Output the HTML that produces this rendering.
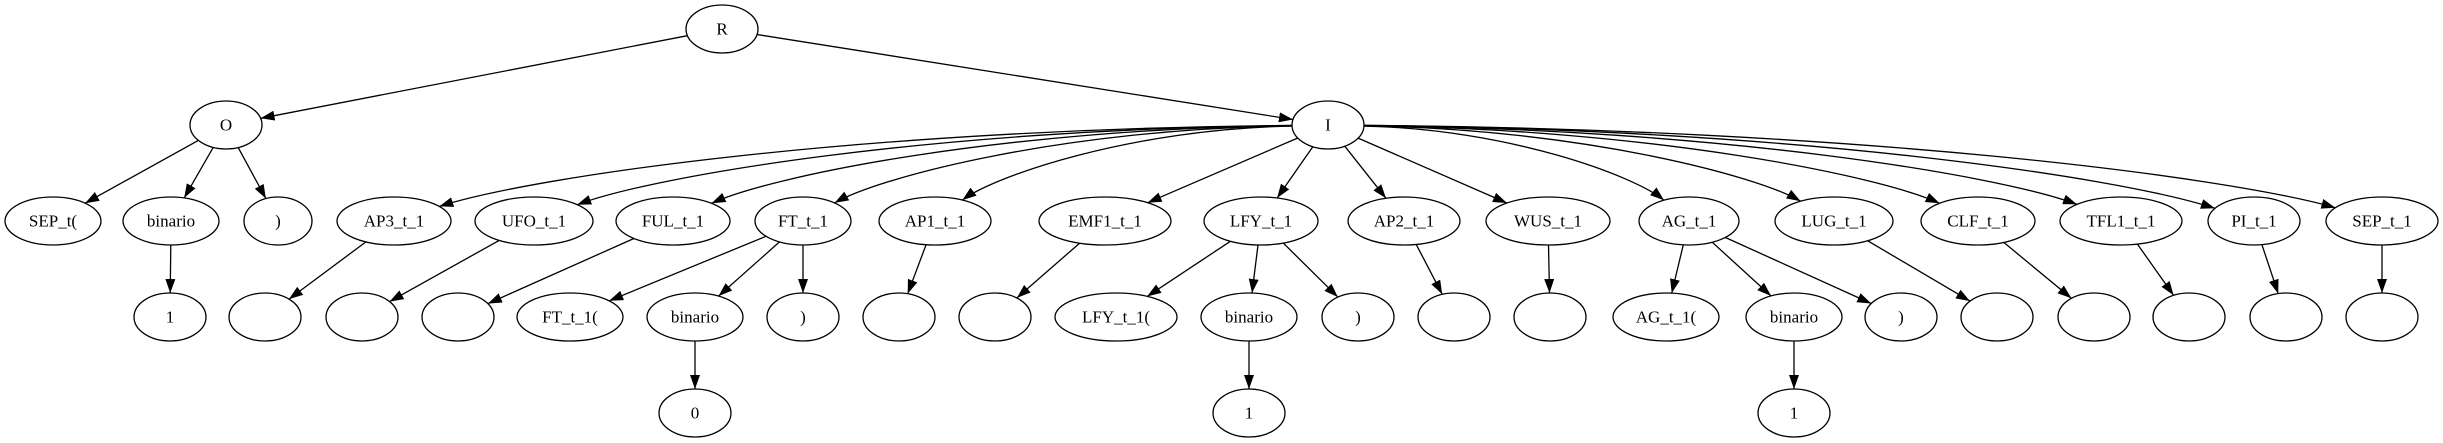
<!DOCTYPE html>
<html><head><meta charset="utf-8"><style>
html,body{margin:0;padding:0;background:#fff;}
svg{display:block;}
text{font-family:"Liberation Serif",serif;font-size:17px;text-anchor:middle;dominant-baseline:central;fill:#000;}
ellipse{fill:none;stroke:#000;stroke-width:1.3;}
</style></head><body>
<svg id="s" width="2443" height="443" viewBox="0 0 2443 443" xmlns="http://www.w3.org/2000/svg">
<defs><marker id="ar" markerUnits="userSpaceOnUse" markerWidth="14" markerHeight="10" refX="14" refY="5" orient="auto"><path d="M0,0 L14,5 L0,10 z" fill="#000"/></marker></defs>
<g id="edges" fill="none" stroke="#000" stroke-width="1.3"></g>
<g id="nodes">
<ellipse cx="722" cy="29" rx="36" ry="24"/><text x="722" y="29">R</text>
<ellipse cx="226" cy="125" rx="36" ry="24"/><text x="226" y="125">O</text>
<ellipse cx="1328" cy="125" rx="36" ry="24"/><text x="1328" y="125">I</text>

<ellipse cx="53" cy="221" rx="48" ry="24"/><text x="53" y="221">SEP_t(</text>
<ellipse cx="171" cy="221" rx="48" ry="24"/><text x="171" y="221">binario</text>
<ellipse cx="278" cy="221" rx="34" ry="24"/><text x="278" y="221">)</text>
<ellipse cx="394" cy="221" rx="57" ry="24"/><text x="394" y="221">AP3_t_1</text>
<ellipse cx="534" cy="221" rx="59" ry="24"/><text x="534" y="221">UFO_t_1</text>
<ellipse cx="673" cy="221" rx="57" ry="24"/><text x="673" y="221">FUL_t_1</text>
<ellipse cx="803" cy="221" rx="48" ry="24"/><text x="803" y="221">FT_t_1</text>
<ellipse cx="935" cy="221" rx="56" ry="24"/><text x="935" y="221">AP1_t_1</text>
<ellipse cx="1105" cy="221" rx="66" ry="24"/><text x="1105" y="221">EMF1_t_1</text>
<ellipse cx="1261" cy="221" rx="57" ry="24"/><text x="1261" y="221">LFY_t_1</text>
<ellipse cx="1404" cy="221" rx="56" ry="24"/><text x="1404" y="221">AP2_t_1</text>
<ellipse cx="1548" cy="221" rx="62" ry="24"/><text x="1548" y="221">WUS_t_1</text>
<ellipse cx="1689" cy="221" rx="50" ry="24"/><text x="1689" y="221">AG_t_1</text>
<ellipse cx="1834" cy="221" rx="59" ry="24"/><text x="1834" y="221">LUG_t_1</text>
<ellipse cx="1978" cy="221" rx="57" ry="24"/><text x="1978" y="221">CLF_t_1</text>
<ellipse cx="2121" cy="221" rx="61" ry="24"/><text x="2121" y="221">TFL1_t_1</text>
<ellipse cx="2254" cy="221" rx="46" ry="24"/><text x="2254" y="221">PI_t_1</text>
<ellipse cx="2382" cy="221" rx="56" ry="24"/><text x="2382" y="221">SEP_t_1</text>

<ellipse cx="170" cy="317" rx="36" ry="24"/><text x="170" y="317">1</text>
<ellipse cx="265" cy="317" rx="36" ry="24"/>
<ellipse cx="362" cy="317" rx="36" ry="24"/>
<ellipse cx="458" cy="317" rx="36" ry="24"/>
<ellipse cx="570" cy="317" rx="53" ry="24"/><text x="570" y="317">FT_t_1(</text>
<ellipse cx="695" cy="317" rx="48" ry="24"/><text x="695" y="317">binario</text>
<ellipse cx="803" cy="317" rx="36" ry="24"/><text x="803" y="317">)</text>
<ellipse cx="899" cy="317" rx="36" ry="24"/>
<ellipse cx="995" cy="317" rx="36" ry="24"/>
<ellipse cx="1116" cy="317" rx="61" ry="24"/><text x="1116" y="317">LFY_t_1(</text>
<ellipse cx="1249" cy="317" rx="48" ry="24"/><text x="1249" y="317">binario</text>
<ellipse cx="1358" cy="317" rx="36" ry="24"/><text x="1358" y="317">)</text>
<ellipse cx="1454" cy="317" rx="36" ry="24"/>
<ellipse cx="1550" cy="317" rx="36" ry="24"/>
<ellipse cx="1666" cy="317" rx="53" ry="24"/><text x="1666" y="317">AG_t_1(</text>
<ellipse cx="1794" cy="317" rx="48" ry="24"/><text x="1794" y="317">binario</text>
<ellipse cx="1901" cy="317" rx="36" ry="24"/><text x="1901" y="317">)</text>
<ellipse cx="1997" cy="317" rx="36" ry="24"/>
<ellipse cx="2094" cy="317" rx="36" ry="24"/>
<ellipse cx="2189" cy="317" rx="36" ry="24"/>
<ellipse cx="2286" cy="317" rx="36" ry="24"/>
<ellipse cx="2382" cy="317" rx="36" ry="24"/>

<ellipse cx="695" cy="413" rx="36" ry="24"/><text x="695" y="413">0</text>
<ellipse cx="1249" cy="413" rx="36" ry="24"/><text x="1249" y="413">1</text>
<ellipse cx="1794" cy="413" rx="36" ry="24"/><text x="1794" y="413">1</text>
</g>
</svg>
<script>
var N={R:[722,29,36],O:[226,125,36],I:[1328,125,36],
a1:[53,221,48],a2:[171,221,48],a3:[278,221,34],
b1:[394,221,57],b2:[534,221,59],b3:[673,221,57],b4:[803,221,48],b5:[935,221,56],b6:[1105,221,66],b7:[1261,221,57],b8:[1404,221,56],b9:[1548,221,62],b10:[1689,221,50],b11:[1834,221,59],b12:[1978,221,57],b13:[2121,221,61],b14:[2254,221,46],b15:[2382,221,56],
c1:[170,317,36],c2:[265,317,36],c3:[362,317,36],c4:[458,317,36],c5:[570,317,53],c6:[695,317,48],c7:[803,317,36],c8:[899,317,36],c9:[995,317,36],c10:[1116,317,61],c11:[1249,317,48],c12:[1358,317,36],c13:[1454,317,36],c14:[1550,317,36],c15:[1666,317,53],c16:[1794,317,48],c17:[1901,317,36],c18:[1997,317,36],c19:[2094,317,36],c20:[2189,317,36],c21:[2286,317,36],c22:[2382,317,36],
d1:[695,413,36],d2:[1249,413,36],d3:[1794,413,36]};
var E=[["R","O"],["R","I"],["O","a1"],["O","a2"],["O","a3"],["a2","c1"],
["b1","c2"],["b2","c3"],["b3","c4"],["b4","c5"],["b4","c6"],["b4","c7"],["b5","c8"],["b6","c9"],["b7","c10"],["b7","c11"],["b7","c12"],["b8","c13"],["b9","c14"],["b10","c15"],["b10","c16"],["b10","c17"],["b11","c18"],["b12","c19"],["b13","c20"],["b14","c21"],["b15","c22"],["c6","d1"],["c11","d2"],["c16","d3"]];
for(var i=1;i<=15;i++)E.push(["I","b"+i]);
function ep(n,tx,ty){var cx=n[0],cy=n[1],rx=n[2],ry=24,dx=tx-cx,dy=ty-cy;var t=1/Math.sqrt(dx*dx/(rx*rx)+dy*dy/(ry*ry));return [cx+dx*t,cy+dy*t];}
var g=document.getElementById("edges"),h="";
E.forEach(function(e){var s=N[e[0]],t=N[e[1]];var dx=t[0]-s[0];
 if(e[0]=="I"&&Math.abs(dx)>250){
  var p1=[s[0]+dx*0.5,s[1]+4];var p2=[t[0]-dx*0.15,t[1]-45];
  var a=ep(s,s[0]+dx,s[1]+(t[1]-s[1])*0.12);var b=ep(t,p2[0],p2[1]);
  h+='<path marker-end="url(#ar)" d="M'+a[0].toFixed(1)+','+a[1].toFixed(1)+' C'+p1[0].toFixed(1)+','+p1[1].toFixed(1)+' '+p2[0].toFixed(1)+','+p2[1].toFixed(1)+' '+b[0].toFixed(1)+','+b[1].toFixed(1)+'"/>';
 }else{var a=ep(s,t[0],t[1]),b=ep(t,s[0],s[1]);
  h+='<path marker-end="url(#ar)" d="M'+a[0].toFixed(1)+','+a[1].toFixed(1)+' L'+b[0].toFixed(1)+','+b[1].toFixed(1)+'"/>';}
});
g.innerHTML=h;
</script>
</body></html>
